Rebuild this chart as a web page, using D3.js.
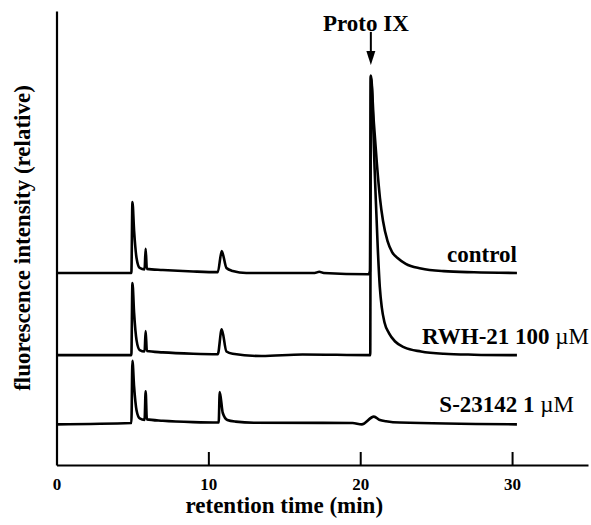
<!DOCTYPE html>
<html>
<head>
<meta charset="utf-8">
<script src="https://cdn.jsdelivr.net/npm/d3@7"></script>
<style>
  html, body { margin: 0; padding: 0; background: #fff; }
  text { font-family: "Liberation Serif", "Times New Roman", Times, serif; font-weight: bold; fill: #000; }
</style>
</head>
<body>
<div id="chart"></div>
<script>
// retention time (min), relative fluorescence above each trace's baseline
const controlTrace = [
  [0, 0], [4.93, 0], [5.0, 15.6], [5.11, 9.3], [5.27, 3.3], [5.48, 1.1], [5.8, 0.8],
  [5.87, 5.3], [5.95, 0.9], [7.0, 0.66], [9.0, 0.33], [10.62, 0.18], [10.88, 4.8],
  [11.19, 1.1], [11.6, 0.45], [12.5, 0], [17.0, 0], [17.3, 0.25], [17.6, 0], [20.55, -0.3],
  [20.64, 0.4], [20.7, 43.4], [20.9, 33], [21.1, 24], [21.3, 16.5], [21.5, 11.5], [21.8, 7],
  [22.1, 4.6], [22.5, 3.2], [23.0, 2.0], [24.0, 1.0], [25.5, 0.4], [27.5, 0.15], [30.32, 0]
];
const rwhTrace = [
  [0, 0], [4.93, 0], [5.0, 15.9], [5.11, 9.3], [5.27, 3.3], [5.48, 1.1], [5.8, 0.8],
  [5.87, 5.3], [5.95, 0.9], [7.0, 0.6], [9.0, 0.3], [10.62, 0.2], [10.88, 5.7],
  [11.19, 0.8], [11.6, 0.3], [13.5, -0.2], [16.2, 0.15], [20.66, 0],
  [20.7, 61.5], [20.96, 40], [21.15, 24], [21.29, 15], [21.42, 10.5], [21.6, 7.2], [21.9, 4.8],
  [22.3, 3.0], [22.9, 1.7], [24.0, 0.8], [25.5, 0.3], [27.5, 0.1], [30.32, 0]
];
const s23142Trace = [
  [0, -0.3], [4.93, 0], [5.0, 13.7], [5.11, 8], [5.27, 2.8], [5.48, 1.0], [5.8, 0.7],
  [5.87, 7.0], [5.95, 0.8], [7.0, 0.5], [9.0, 0.2], [10.68, 0.1], [10.75, 6.8],
  [10.95, 2.2], [11.25, 0.66], [11.8, 0.3], [13.0, 0.07], [19.5, 0], [20.1, -0.3],
  [20.9, 1.4], [21.3, 0.66], [21.7, 0.4], [22.6, 0.1], [30.32, -0.3]
];

const traces = [controlTrace, rwhTrace, s23142Trace];
const traceOffsets = [42.3, 24.2, 9.25];
const traceNames = ['control', 'RWH-21 100', 'S-23142 1'];
const traceUnits = ['', '\u00b5M', '\u00b5M'];

const xTickValues = [0, 10, 20, 30];
const protoTime = 20.7;

const width = 591;
const height = 525;

const svg = d3.select('#chart').append('svg')
  .attr('width', width)
  .attr('height', height);

const x = d3.scaleLinear().domain([0, 35]).range([56.5, 588]);
const y = d3.scaleLinear().domain([0, 100]).range([465, 11]);

const line = d3.line()
  .x(d => x(d[0]))
  .y(d => y(d[1]))
  .curve(d3.curveMonotoneX);

// axes
const xAxis = svg.append('g')
  .attr('transform', `translate(0,${y(0)})`)
  .call(d3.axisBottom(x)
    .tickValues(xTickValues)
    .tickSizeInner(-13)
    .tickSizeOuter(0)
    .tickPadding(13));
xAxis.select('.domain').attr('stroke-width', 2.2);
xAxis.selectAll('.tick line').attr('stroke-width', 2);
xAxis.selectAll('.tick text').style('font-size', '17px');

svg.append('g')
  .attr('transform', `translate(${x(0)},0)`)
  .call(d3.axisLeft(y).tickValues([]).tickSizeOuter(0))
  .select('.domain').attr('stroke-width', 2.2);

// traces
svg.append('g')
  .selectAll('path')
  .data(traces)
  .join('path')
  .attr('d', (d, i) => line(d.map(p => [p[0], p[1] + traceOffsets[i]])))
  .attr('fill', 'none')
  .attr('stroke', '#000')
  .attr('stroke-width', 2.6)
  .attr('stroke-linejoin', 'round');

// trace labels
const labelX = [x(30.32), width - 2, width - 17];
const labels = svg.append('g')
  .selectAll('text')
  .data(traceNames)
  .join('text')
  .attr('x', (d, i) => labelX[i])
  .attr('y', (d, i) => y(traceOffsets[i]) - 11)
  .attr('text-anchor', 'end')
  .style('font-size', '23px');
labels.append('tspan').text(d => d);
labels.append('tspan')
  .text((d, i) => traceUnits[i] ? ' ' + traceUnits[i] : '')
  .style('font-weight', 'normal');

// Proto IX marker
const peakTop = y(rwhTrace.find(p => p[0] === protoTime)[1] + traceOffsets[1]);
svg.append('text')
  .attr('x', x(protoTime) - 5)
  .attr('y', peakTop - 45)
  .attr('text-anchor', 'middle')
  .style('font-size', '23px')
  .text('Proto IX');
svg.append('line')
  .attr('x1', x(protoTime)).attr('x2', x(protoTime))
  .attr('y1', peakTop - 44).attr('y2', peakTop - 22)
  .attr('stroke', '#000')
  .attr('stroke-width', 2);
svg.append('path')
  .attr('d', `M${x(protoTime) - 4.5},${peakTop - 25}L${x(protoTime) + 4.5},${peakTop - 25}L${x(protoTime)},${peakTop - 11}Z`)
  .attr('fill', '#000');

// axis titles
svg.append('text')
  .attr('x', (x(0) + x(30)) / 2)
  .attr('y', 513)
  .attr('text-anchor', 'middle')
  .style('font-size', '23px')
  .text('retention time (min)');

svg.append('text')
  .attr('transform', `translate(30,${(y(0) + y(100)) / 2}) rotate(-90)`)
  .attr('text-anchor', 'middle')
  .style('font-size', '23px')
  .text('fluorescence intensity (relative)');
</script>
</body>
</html>
